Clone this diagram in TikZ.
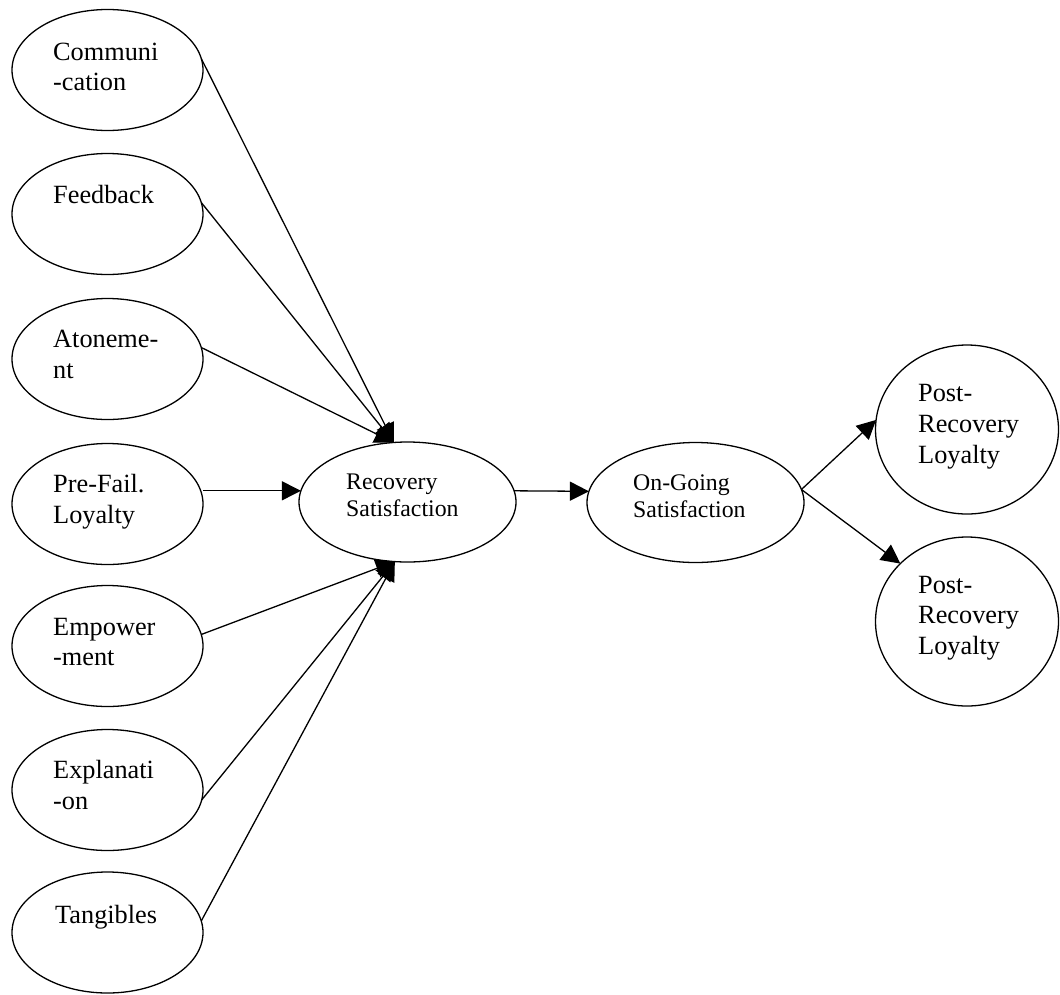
\documentclass[tikz,border=0pt]{standalone}
\usepackage{fontspec}
\setmainfont{Liberation Serif}
\usetikzlibrary{shapes.geometric,arrows.meta}
\newcommand\twoline[2]{\vtop{\hbox{#1}\hbox{#2}}}
\newcommand\threeline[3]{\vtop{\hbox{#1}\hbox{#2}\hbox{#3}}}
\begin{document}
\begin{tikzpicture}[x=1pt,y=-1pt,
  oval/.style={draw,line width=1.3pt,ellipse,inner sep=0pt,outer sep=0pt},
  lft/.style={oval,minimum width=191pt,minimum height=121pt},
  mid/.style={oval,minimum width=217pt,minimum height=120pt},
  rgt/.style={oval,minimum width=183pt,minimum height=169pt},
  bigtxt/.style={inner sep=0pt,anchor=base west,font=\fontsize{26.3}{30.7}\selectfont},
  smalltxt/.style={inner sep=0pt,anchor=base west,font=\fontsize{23.8}{27.5}\selectfont},
  arr/.style={line width=1.3pt,-{Triangle[length=19pt,width=19pt]}}]
\useasboundingbox (0,0) rectangle (1060,994);

% left column
\node[lft] (comm) at (107.5,70) {};
\node[lft] (feed) at (107.5,214) {};
\node[lft] (aton) at (107.5,359) {};
\node[lft] (pre)  at (107.5,504) {};
\node[lft] (emp)  at (107.5,646) {};
\node[lft] (expl) at (107.5,790) {};
\node[lft] (tang) at (107.5,932.5) {};

\node[bigtxt] (comm-t) at (53,60) {\twoline{Communi}{-cation}};
\node[bigtxt] (feed-t) at (53,203) {Feedback};
\node[bigtxt] (aton-t) at (53,347.5) {\twoline{Atoneme-}{nt}};
\node[bigtxt] (pre-t)  at (53,492.5) {\twoline{Pre-Fail.}{Loyalty}};
\node[bigtxt] (emp-t)  at (53,635) {\twoline{Empower}{-ment}};
\node[bigtxt] (expl-t) at (53,778.5) {\twoline{Explanati}{-on}};
\node[bigtxt] (tang-t) at (55,923) {Tangibles};

% middle
\node[mid] (rec) at (407.5,502) {};
\node[smalltxt] (rec-t) at (346,489) {\twoline{Recovery}{Satisfaction}};
\node[mid] (ong) at (695.5,502.5) {};
\node[smalltxt] (ong-t) at (633,490) {\twoline{On-Going}{Satisfaction}};

% right
\node[rgt] (post1) at (967,429.5) {};
\node[bigtxt] (post1-t) at (918,401.7) {\threeline{Post-}{Recovery}{Loyalty}};
\node[rgt] (post2) at (967,621.5) {};
\node[bigtxt] (post2-t) at (918,593) {\threeline{Post-}{Recovery}{Loyalty}};

% connectors
\draw[arr] (comm.7) -- (rec.103);
\draw[arr] (feed.7) -- (rec.103);
\draw[arr] (aton.7) -- (rec.103);
\draw[arr] (pre.east |- rec.174) -- (rec.174);
\draw[arr] (emp.7) -- (rec.258);
\draw[arr] (expl.-6) -- (rec.258);
\draw[arr] (tang.7) -- (rec.258);
\draw[arr] (rec.6) -- (ong.174);
\draw[arr] (ong.7) -- (post1.174);
\draw[arr] (ong.7) -- (post2.139);
\end{tikzpicture}
\end{document}
